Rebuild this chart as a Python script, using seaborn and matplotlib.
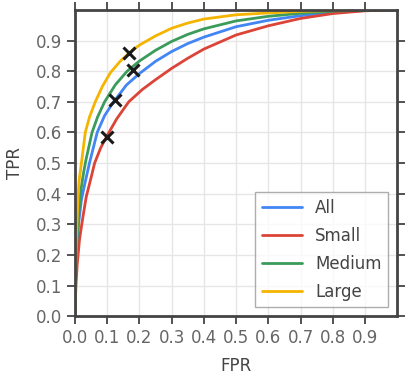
import matplotlib
matplotlib.use("Agg")
import matplotlib.pyplot as plt
import numpy as np
import pandas as pd
import seaborn as sns

sns.set_theme(style="ticks")

# ROC curves, one list of points per group
fpr_all = [0.0, 0.001, 0.003, 0.006, 0.012, 0.02, 0.03, 0.045, 0.069, 0.092, 0.12, 0.16,
           0.2, 0.25, 0.3, 0.35, 0.4, 0.5, 0.6, 0.7, 0.8, 0.9, 1.0]
tpr_all = [0.0, 0.08, 0.15, 0.22, 0.31, 0.38, 0.43, 0.5, 0.6, 0.655, 0.7, 0.755,
           0.792, 0.832, 0.864, 0.89, 0.911, 0.945, 0.966, 0.981, 0.992, 0.998, 1.0]

fpr_small = [0.0, 0.001, 0.003, 0.007, 0.014, 0.024, 0.035, 0.048, 0.061, 0.08, 0.1, 0.13,
             0.167, 0.209, 0.25, 0.3, 0.35, 0.4, 0.5, 0.6, 0.7, 0.8, 0.9, 1.0]
tpr_small = [0.0, 0.05, 0.1, 0.17, 0.25, 0.32, 0.39, 0.444, 0.5, 0.55, 0.59, 0.645,
             0.7, 0.74, 0.772, 0.809, 0.842, 0.872, 0.918, 0.948, 0.972, 0.988, 0.997, 1.0]

fpr_medium = [0.0, 0.001, 0.003, 0.006, 0.01, 0.018, 0.027, 0.034, 0.053, 0.07, 0.092, 0.125,
              0.162, 0.2, 0.25, 0.3, 0.35, 0.4, 0.5, 0.6, 0.7, 0.8, 0.9, 1.0]
tpr_medium = [0.0, 0.1, 0.17, 0.25, 0.32, 0.41, 0.47, 0.51, 0.6, 0.65, 0.7, 0.755,
              0.8, 0.833, 0.868, 0.897, 0.92, 0.938, 0.964, 0.979, 0.989, 0.996, 0.999, 1.0]

fpr_large = [0.0, 0.001, 0.003, 0.006, 0.01, 0.013, 0.02, 0.032, 0.045, 0.063, 0.085, 0.11,
             0.14, 0.171, 0.2, 0.25, 0.3, 0.35, 0.4, 0.5, 0.6, 0.7, 0.8, 0.9, 1.0]
tpr_large = [0.0, 0.12, 0.2, 0.3, 0.4, 0.444, 0.5, 0.6, 0.65, 0.7, 0.75, 0.795,
             0.832, 0.862, 0.885, 0.915, 0.94, 0.957, 0.97, 0.984, 0.99, 0.995, 0.998, 1.0, 1.0]

groups = ["All", "Small", "Medium", "Large"]
colors = ["#4285F4", "#DB4437", "#3B9B5A", "#F4B400"]

# operating points (black crosses)
op_fpr = [0.124, 0.10, 0.18, 0.169]
op_tpr = [0.706, 0.586, 0.805, 0.86]

ticks = np.round(np.arange(0, 1.0, 0.1), 1)

frames = []
for name, fx, ty in [("All", fpr_all, tpr_all), ("Small", fpr_small, tpr_small),
                     ("Medium", fpr_medium, tpr_medium), ("Large", fpr_large, tpr_large)]:
    frames.append(pd.DataFrame({"FPR": fx, "TPR": ty, "group": name}))
df = pd.concat(frames, ignore_index=True)

fig = plt.figure(figsize=(4.12, 3.8), dpi=100)
ax = fig.add_axes([0.182, 0.168, 0.782, 0.806])

sns.lineplot(data=df, x="FPR", y="TPR", hue="group", hue_order=groups,
             palette=colors, estimator=None, sort=False, linewidth=2, ax=ax)
ax.plot(op_fpr, op_tpr, linestyle="none", marker="x", color="#1a1a1a",
        markersize=9, markeredgewidth=2.2, zorder=5)

ax.set_xlim(0, 1)
ax.set_ylim(0, 1)
ax.set_xticks(ticks)
ax.set_yticks(ticks)
ax.set_xticklabels([f"{t:.1f}" for t in ticks])
ax.set_yticklabels([f"{t:.1f}" for t in ticks])
ax.grid(True, color="#e6e6e6", linewidth=1)
ax.set_axisbelow(True)
for s in ax.spines.values():
    s.set_color("#444444")
    s.set_linewidth(2)
ax.tick_params(direction="out", length=6, width=1.3, color="#444444",
               labelcolor="#666666", labelsize=12, top=True, right=True)
ax.set_xlabel("FPR", fontsize=12, color="#444444", labelpad=7)
ax.set_ylabel("TPR", fontsize=12, color="#444444", labelpad=8)

leg = ax.legend(loc="lower right", fontsize=12, frameon=True, fancybox=False,
                edgecolor="#999999", borderpad=0.4, handlelength=2.4,
                labelspacing=0.6, borderaxespad=0, bbox_to_anchor=(0.972, 0.029))
leg.get_frame().set_linewidth(1)
for t in leg.get_texts():
    t.set_color("#444444")

fig.savefig("out.png", dpi=100)
